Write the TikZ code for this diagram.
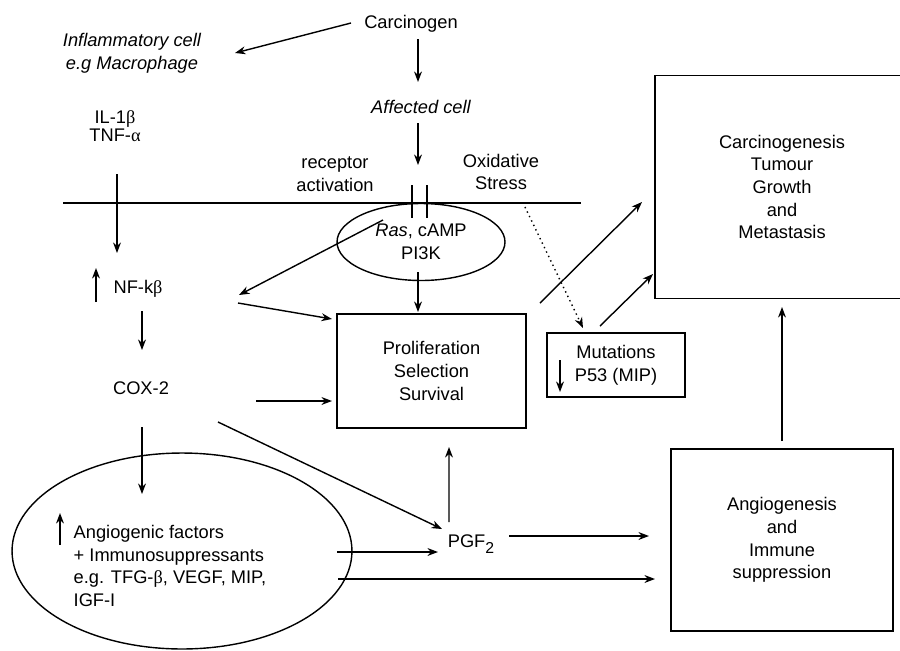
\documentclass[tikz,border=0pt]{standalone}
\usepackage{fontspec}
\setmainfont{Liberation Sans}
\newfontfamily\grk{Liberation Serif}
\usetikzlibrary{shapes.geometric,arrows.meta}
\tikzset{
  lbl/.style={inner sep=0pt, align=center},
  box/.style={draw, rectangle, align=center, outer sep=0pt},
  arr/.style={-{Stealth[length=6pt,width=4.5pt]}},
}

\begin{document}
\begin{tikzpicture}[x=0.02cm, y=-0.02cm, line width=0.8pt, font=\fontsize{10.4}{12.9}\selectfont]
        \useasboundingbox (0,0) rectangle (900,650);
        \clip (0,0) rectangle (900,650);
        % texts
        \node[lbl] (carc) at (411,24) {Carcinogen};
        \node[lbl, font=\fontsize{10.4}{12.9}\selectfont\itshape] (infl) at (132,53) {Inflammatory cell\\e.g Macrophage};
        \node[lbl] (il) at (115,126) {IL-1{\grk β}\\[-2.7pt]TNF-{\grk α}};
        \node[lbl, font=\fontsize{10.4}{12.9}\selectfont\itshape] (aff) at (421,107) {Affected cell};
        \node[lbl] (recep) at (335,174) {receptor\\activation};
        \node[lbl] (oxid) at (501,172) {Oxidative\\Stress};
        \node[lbl] (nfkb) at (138,289) {NF-k{\grk β}};
        \node[lbl] (cox) at (141,388) {COX-2};
        \node[lbl] (pgf) at (471,544) {PGF\raisebox{-3pt}{\fontsize{9}{10}\selectfont 2}};
        % membrane and receptor
        \coordinate (memL) at (63,203);
        \coordinate (memR) at (581,203);
        \draw (memL) -- (memR);
        \coordinate (rcp) at (419.5,185);
        \draw (rcp) ++(-7.5,0) -- ++(0,33) (rcp) ++(7.5,0) -- ++(0,33);
        % shapes
        \node[draw, ellipse, minimum width=3.36cm, minimum height=1.54cm, inner sep=0pt, align=center] (ras) at (421,242) {\textit{Ras}, cAMP\\PI3K};
        \node[box, minimum width=3.78cm, minimum height=2.28cm] (prolif) at (431.5,371) {Proliferation\\Selection\\Survival};
        \node[box, minimum width=2.76cm, minimum height=1.28cm] (mut) at (616,365) {Mutations\\P53 (MIP)};
        \node[box, minimum width=5.08cm, minimum height=4.46cm] (carcbox) at (782,187) {Carcinogenesis\\Tumour\\Growth\\and\\Metastasis};
        \node[box, minimum width=4.44cm, minimum height=3.64cm] (angio) at (782,540) {Angiogenesis\\and\\Immune\\suppression};
        \node[draw, ellipse, minimum width=6.8cm, minimum height=3.92cm] (angell) at (182,551) {};
        \node[lbl, anchor=west, align=left] (angf) at (73,566) {Angiogenic factors\\+ Immunosuppressants\\e.g. TFG-{\grk β}, VEGF, MIP,\\IGF-I};
        % arrows
        \draw[arr] ([shift={(-60,-1)}]carc.center) -- ([shift={(103,0)}]infl.center);
        \draw[arr] ([shift={(7,15)}]carc.center) -- ([shift={(-3,-25)}]aff.center);
        \draw[arr] ([shift={(-3,16)}]aff.center) -- ([shift={(-1.5,-20)}]rcp);
        \draw[arr] ([shift={(2,48)}]il.center) -- ([shift={(-21,-36)}]nfkb.center);
        \draw[arr] ([shift={(-42,13)}]nfkb.center) -- ([shift={(-42,-21)}]nfkb.center);
        \draw[arr] ([shift={(4,22)}]nfkb.center) -- ([shift={(1,-38)}]cox.center);
        \draw[arr] ([shift={(-38,-22)}]ras.center) -- ([shift={(101,6)}]nfkb.center);
        \draw[arr] ([shift={(100,14)}]nfkb.center) -- ([shift={(-99.5,-52)}]prolif.center);
        \draw[arr] ([shift={(-3,30)}]ras.center) -- ([shift={(-13.5,-59)}]prolif.center);
        \draw[arr] ([shift={(115,13)}]cox.center) -- ([shift={(-99.5,30)}]prolif.center);
        \draw[arr] ([shift={(77,34)}]cox.center) -- ([shift={(-29,-15)}]pgf.center);
        \draw[arr] ([shift={(1,39)}]cox.center) -- ([shift={(-40,-57)}]angell.center);
        \draw[arr] ([shift={(155,1)}]angell.center) -- ([shift={(-33,8)}]pgf.center);
        \draw[arr] ([shift={(156,28)}]angell.center) -- ([shift={(-127,39)}]angio.center);
        \draw[arr] ([shift={(-22,-22)}]pgf.center) -- ([shift={(17.5,76)}]prolif.center);
        \draw[arr] ([shift={(38,-8)}]pgf.center) -- ([shift={(-133,-4)}]angio.center);
        \draw[arr] ([shift={(0,-99)}]angio.center) -- ([shift={(0,120)}]carcbox.center);
        \draw[arr] ([shift={(108.5,-68)}]prolif.center) -- ([shift={(-140,15)}]carcbox.center);
        \draw[arr] ([shift={(-16,-39)}]mut.center) -- ([shift={(-129,87)}]carcbox.center);
        \draw[arr, dotted] ([shift={(24,35)}]oxid.center) -- ([shift={(-33,-37)}]mut.center);
        \draw[arr] ([shift={(-56,-5)}]mut.center) -- ([shift={(-56,27)}]mut.center);
        \draw[arr] ([shift={(-13,-21)}]angf.west) -- ([shift={(-13,-53)}]angf.west);
\end{tikzpicture}
\end{document}
